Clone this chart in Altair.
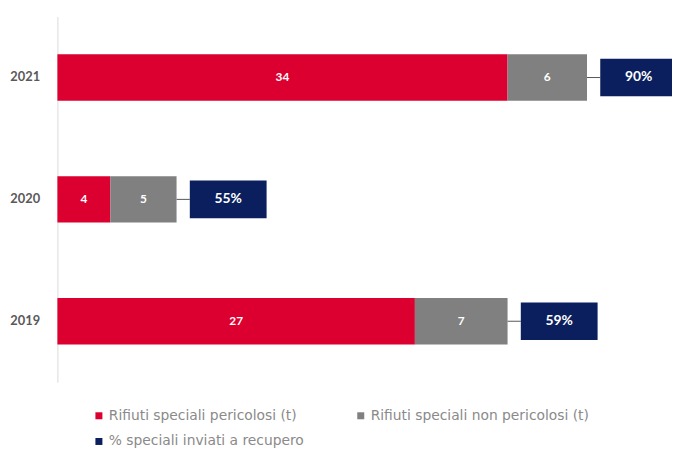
import altair as alt
import pandas as pd

years = ["2021", "2020", "2019"]
pericolosi = [34, 4, 27]
non_pericolosi = [6, 5, 7]
pct_recupero = [90, 55, 59]

series = [
    "Rifiuti speciali pericolosi (t)",
    "Rifiuti speciali non pericolosi (t)",
    "% speciali inviati a recupero",
]
colors = ["#DC0030", "#808080", "#0B1F5E"]

GAP = 1.0
BOXW = 5.8
FONT = "Lato"
LEGEND_FONT = "DejaVu Sans"

rows = []
for y, p, n in zip(years, pericolosi, non_pericolosi):
    rows.append(dict(year=y, serie=series[0], x0=0, x1=p, mid=p / 2, label=str(p)))
    rows.append(dict(year=y, serie=series[1], x0=p, x1=p + n, mid=p + n / 2, label=str(n)))
stack = pd.DataFrame(rows)

totals = [p + n for p, n in zip(pericolosi, non_pericolosi)]
box = pd.DataFrame(dict(
    year=years,
    serie=[series[2]] * 3,
    total=totals,
    b0=[t + GAP for t in totals],
    b1=[t + GAP + BOXW for t in totals],
    bmid=[t + GAP + BOXW / 2 for t in totals],
    label=[f"{v}%" for v in pct_recupero],
))

xscale = alt.Scale(domain=[0, 46.27], nice=False, zero=True)
yenc = alt.Y(
    "year:N",
    sort=years,
    scale=alt.Scale(paddingInner=0, paddingOuter=0),
    axis=alt.Axis(
        title=None, ticks=False, domain=True, domainColor="#d9d9d9",
        labelFont=FONT, labelFontSize=13, labelFontWeight="bold",
        labelColor="#595959", labelPadding=18,
    ),
)
color = alt.Color(
    "serie:N",
    scale=alt.Scale(domain=series, range=colors),
    legend=alt.Legend(
        title=None, orient="none", legendX=35, legendY=397, columns=2,
        direction="horizontal",
        symbolType="square", symbolSize=50, symbolStrokeWidth=0,
        labelFont=LEGEND_FONT, labelFontSize=14, labelColor="#8a8a8a",
        labelLimit=400, rowPadding=12, columnPadding=50, labelOffset=3,
    ),
)

bars = alt.Chart(stack).mark_bar(size=47).encode(
    x=alt.X("x0:Q", scale=xscale, axis=None),
    x2="x1:Q",
    y=yenc,
    color=color,
)
bar_text = alt.Chart(stack).mark_text(
    color="white", font=FONT, fontWeight="bold", fontSize=12
).encode(x=alt.X("mid:Q", scale=xscale), y=alt.Y("year:N", sort=years), text="label:N")

connector = alt.Chart(box).mark_rule(color="#555555", strokeWidth=1).encode(
    x=alt.X("total:Q", scale=xscale), x2="b0:Q", y=alt.Y("year:N", sort=years)
)
boxes = alt.Chart(box).mark_bar(size=38).encode(
    x=alt.X("b0:Q", scale=xscale), x2="b1:Q", y=alt.Y("year:N", sort=years), color=color
)
box_text = alt.Chart(box).mark_text(
    color="white", font=FONT, fontWeight="bold", fontSize=14
).encode(x=alt.X("bmid:Q", scale=xscale), y=alt.Y("year:N", sort=years), text="label:N")

chart = alt.layer(bars, bar_text, connector, boxes, box_text).properties(
    width=620, height=370,
    autosize=alt.AutoSizeParams(type="none"),
    padding={"left": 50, "top": 6, "right": 2, "bottom": 70},
).configure_view(stroke=None)

chart.save("out.html", embed_options={"renderer": "svg", "actions": False})
